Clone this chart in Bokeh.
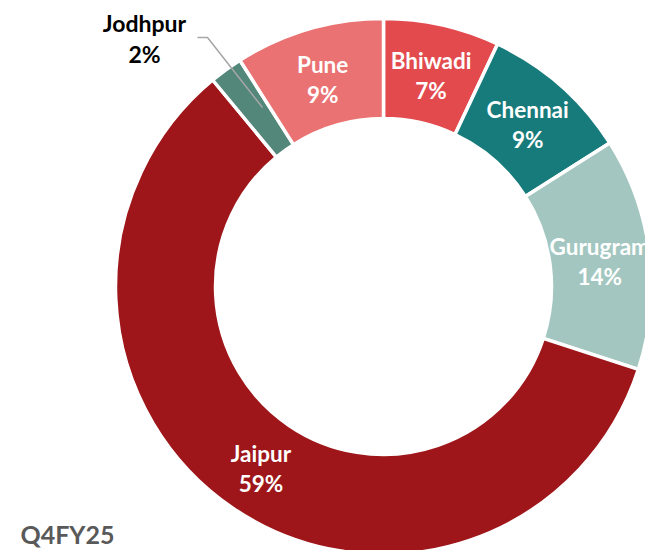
import math
from bokeh.plotting import figure
from bokeh.models import Range1d, ColumnDataSource, Label
from bokeh.core.properties import value
from bokeh.embed import file_html
from bokeh.resources import INLINE

# ---- data ----
cities = ["Bhiwadi", "Chennai", "Gurugram", "Jaipur", "Jodhpur", "Pune"]
shares = [7, 9, 14, 59, 2, 9]
colors = ["#E24A4D", "#187B7B", "#A3C7C0", "#9E1619", "#52877A", "#EB7272"]
period = "Q4FY25"

W, H = 645, 550
CX, CY = 383, 286
R_OUT, R_IN = 268, 168

total = sum(shares)
starts, ends, mids = [], [], []
cum = 0.0
for s in shares:
    a0 = cum / total
    cum += s
    a1 = cum / total
    starts.append(math.pi / 2 - 2 * math.pi * a0)
    ends.append(math.pi / 2 - 2 * math.pi * a1)
    mids.append(math.pi / 2 - 2 * math.pi * (a0 + a1) / 2)

src = ColumnDataSource(dict(city=cities, share=shares, color=colors,
                            start=starts, end=ends,
                            x=[0] * len(cities), y=[0] * len(cities)))

p = figure(width=W, height=H, output_backend="svg", toolbar_location=None,
           x_range=Range1d(-CX, W - CX), y_range=Range1d(-(H - CY), CY),
           min_border=0, outline_line_color=None, background_fill_color="white")
p.axis.visible = False
p.grid.visible = False

p.annular_wedge(x="x", y="y", inner_radius=R_IN, outer_radius=R_OUT,
                start_angle="start", end_angle="end", direction="clock",
                fill_color="color", line_color="white", line_width=3.5, source=src)

# inside labels
r_lab = (R_IN + R_OUT) / 2
lx, ly_name, ly_pct, names, pcts = [], [], [], [], []
for c, s, m in zip(cities, shares, mids):
    if c == "Jodhpur":
        continue
    x = r_lab * math.cos(m)
    y = r_lab * math.sin(m) - 2
    lx.append(x)
    ly_name.append(y + 15)
    ly_pct.append(y - 15)
    names.append(c)
    pcts.append(f"{s}%")

font = value("Lato")
p.text(x=lx, y=ly_name, text=names, text_color="white", text_font=font,
       text_font_style="bold", text_font_size="22.5px", text_align="center",
       text_baseline="middle")
p.text(x=lx, y=ly_pct, text=pcts, text_color="white", text_font=font,
       text_font_style="bold", text_font_size="22.5px", text_align="center",
       text_baseline="middle")

# Jodhpur outside label with leader line
ji = cities.index("Jodhpur")
p.line(x=[-186, -176, -121], y=[249, 249, 179], line_color="#A6A6A6", line_width=1.5)
p.add_layout(Label(x=-239, y=264, text=cities[ji], text_color="black",
                   text_font="Lato", text_font_style="bold", text_font_size="23px",
                   text_align="center", text_baseline="middle"))
p.add_layout(Label(x=-239, y=233, text=f"{shares[ji]}%", text_color="black",
                   text_font="Lato", text_font_style="bold", text_font_size="23px",
                   text_align="center", text_baseline="middle"))

p.add_layout(Label(x=-363, y=-247, text=period, text_color="#595959",
                   text_font="Lato", text_font_style="bold", text_font_size="25px",
                   text_align="left", text_baseline="middle"))

open("out.html", "w").write(file_html(p, INLINE))
